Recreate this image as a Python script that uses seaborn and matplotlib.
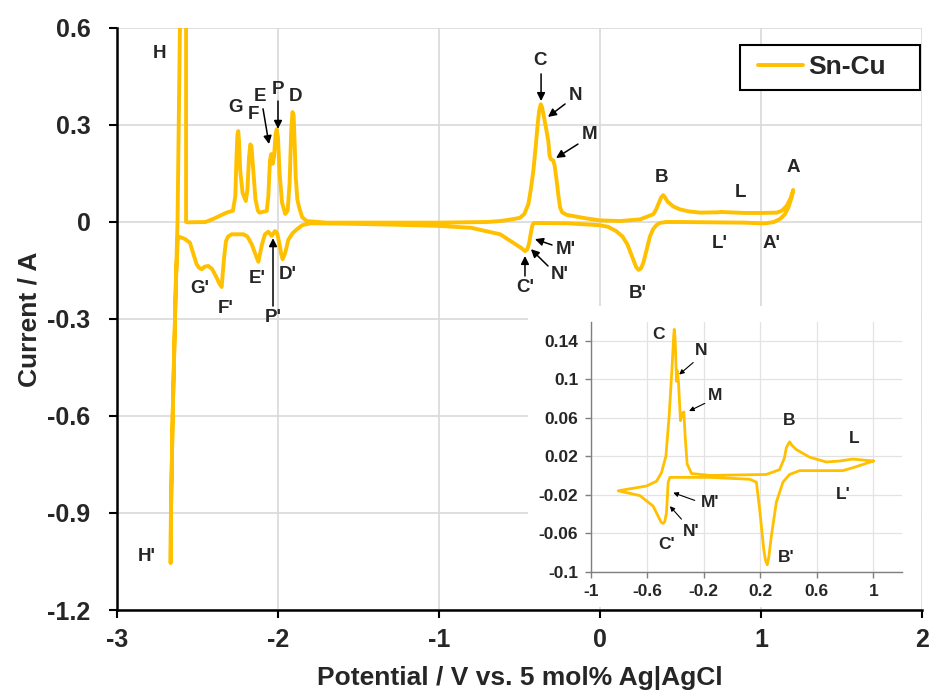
import numpy as np
import pandas as pd
import matplotlib
matplotlib.use("Agg")
import matplotlib.pyplot as plt
import seaborn as sns
from matplotlib.patches import Rectangle

# ---------------- data (main CV, Sn-Cu) ----------------
main_potential = [
    # cathodic scan from A
    1.20, 1.19, 1.17, 1.15, 1.12, 1.08, 1.03, 0.99, 0.90, 0.70, 0.50, 0.41, 0.37, 0.35, 0.33,
    0.31, 0.29, 0.27, 0.255, 0.24, 0.225, 0.21, 0.19, 0.17, 0.14, 0.10, 0.05, 0.00, -0.20,
    -0.41, -0.42, -0.43, -0.44, -0.452, -0.466, -0.49, -0.54, -0.62, -0.80,
    -1.00, -1.30, -1.60, -1.80, -1.85, -1.884, -1.91, -1.936, -1.955, -1.971, -1.98, -1.99,
    -2.005, -2.019, -2.039, -2.06, -2.081, -2.10, -2.122, -2.14, -2.163, -2.19, -2.215,
    -2.288, -2.31, -2.323, -2.335, -2.35, -2.365, -2.381, -2.41, -2.433, -2.455, -2.474,
    -2.49, -2.505, -2.525, -2.547, -2.58, -2.613, -2.622, -2.634, -2.654, -2.665, -2.667,
    # anodic scan from H'
    -2.665, -2.654, -2.634, -2.624, -2.609, -2.600, -2.585, -2.575, -2.571, -2.571, -2.56,
    -2.45, -2.40, -2.32, -2.28, -2.265, -2.258, -2.252, -2.247, -2.242, -2.235, -2.22, -2.20,
    -2.19, -2.18, -2.172, -2.165, -2.155, -2.14, -2.125, -2.116, -2.07, -2.06, -2.05, -2.042,
    -2.033, -2.025, -2.015, -2.008, -2.0, -1.99, -1.975, -1.955, -1.94, -1.928, -1.918, -1.91,
    -1.903, -1.897, -1.89, -1.88, -1.868, -1.85, -1.822,
    -1.70, -1.00, -0.70, -0.62, -0.55, -0.497, -0.47, -0.445, -0.43, -0.414, -0.40, -0.389,
    -0.378, -0.368, -0.36, -0.352, -0.335, -0.321, -0.313, -0.305, -0.29, -0.282, -0.269,
    -0.258, -0.248, -0.235, -0.207, -0.083, 0.00, 0.124, 0.248, 0.331, 0.35, 0.362, 0.38,
    0.393, 0.405, 0.42, 0.455, 0.497, 0.55, 0.621, 0.733, 0.75, 0.90, 1.00, 1.098, 1.13,
    1.16, 1.185, 1.20,
]
main_current = [
    0.098, 0.075, 0.045, 0.025, 0.010, 0.000, -0.004, -0.004, -0.002, -0.001, 0.000, 0.000,
    -0.003, -0.010, -0.022, -0.045, -0.085, -0.125, -0.143, -0.148, -0.140, -0.121, -0.095,
    -0.069, -0.045, -0.028, -0.015, -0.010, -0.004,
    -0.003, -0.010, -0.035, -0.065, -0.085, -0.090, -0.080, -0.064, -0.038, -0.018,
    -0.012, -0.008, -0.005, -0.004, -0.010, -0.023, -0.035, -0.055, -0.095, -0.115, -0.100,
    -0.070, -0.035, -0.028, -0.043, -0.030, -0.038, -0.070, -0.123, -0.100, -0.069, -0.045,
    -0.038, -0.038, -0.045, -0.059, -0.110, -0.201, -0.190, -0.172, -0.145, -0.136, -0.138,
    -0.146, -0.142, -0.131, -0.100, -0.064, -0.052, -0.046, -0.050, -0.180, -0.594, -0.900,
    -1.054,
    -0.900, -0.594, -0.180, 0.000, 0.600, 1.000, 1.300, 1.000, 0.600, 0.000, -0.001,
    0.000, 0.010, 0.029, 0.035, 0.080, 0.200, 0.270, 0.281, 0.250, 0.160, 0.090, 0.065,
    0.100, 0.200, 0.240, 0.235, 0.170, 0.070, 0.035, 0.029, 0.034, 0.080, 0.190, 0.210,
    0.180, 0.200, 0.270, 0.287, 0.260, 0.150, 0.060, 0.025, 0.035, 0.120, 0.280, 0.340,
    0.330, 0.250, 0.140, 0.070, 0.044, 0.015, 0.003,
    -0.002, -0.002, 0.000, 0.003, 0.008, 0.013, 0.025, 0.055, 0.100, 0.158, 0.230, 0.292,
    0.345, 0.364, 0.355, 0.335, 0.290, 0.250, 0.205, 0.194, 0.190, 0.175, 0.127,
    0.080, 0.045, 0.030, 0.022, 0.011, 0.005, 0.003, 0.008, 0.024, 0.040, 0.055, 0.076,
    0.083, 0.075, 0.063, 0.048, 0.039, 0.033, 0.029, 0.030, 0.031, 0.028, 0.028, 0.029, 0.035,
    0.050, 0.075, 0.098,
]

# ---------------- data (inset CV) ----------------
inset_potential = [
    1.00, 0.854, 0.784, 0.478, 0.407, 0.36, 0.313, 0.278, 0.26, 0.249, 0.236, 0.224, 0.195,
    0.172, 0.125, -0.158, -0.44, -0.452, -0.464, -0.476, -0.487, -0.50, -0.511, -0.558,
    -0.652, -0.805,
    -0.605, -0.534, -0.499, -0.468, -0.445, -0.424, -0.413, -0.409, -0.404, -0.400, -0.393,
    -0.388, -0.379, -0.365, -0.351, -0.341, -0.332, -0.318, -0.287, -0.158, 0.242, 0.336,
    0.37, 0.384, 0.407, 0.425, 0.454, 0.548, 0.666, 0.76, 0.854, 1.00,
]
inset_current = [
    0.015, 0.008, 0.005, 0.005, 0.001, -0.007, -0.028, -0.063, -0.085, -0.093, -0.088,
    -0.077, -0.035, -0.007, -0.004, -0.002, -0.002, -0.007, -0.039, -0.048, -0.050, -0.049,
    -0.046, -0.032, -0.021, -0.016,
    -0.011, -0.006, 0.003, 0.020, 0.062, 0.114, 0.145, 0.152, 0.145, 0.131, 0.098,
    0.109, 0.097, 0.057, 0.065, 0.066, 0.041, 0.012, 0.002, 0.000, 0.001, 0.006,
    0.018, 0.029, 0.035, 0.031, 0.027, 0.019, 0.014, 0.015, 0.017, 0.015,
]

main_xticks = [-3, -2, -1, 0, 1, 2]
main_yticks = [0.6, 0.3, 0, -0.3, -0.6, -0.9, -1.2]
main_ytick_labels = ["0.6", "0.3", "0", "-0.3", "-0.6", "-0.9", "-1.2"]
inset_xticks = [-1, -0.6, -0.2, 0.2, 0.6, 1]
inset_xtick_labels = ["-1", "-0.6", "-0.2", "0.2", "0.6", "1"]
inset_yticks = [0.14, 0.1, 0.06, 0.02, -0.02, -0.06, -0.1]
inset_ytick_labels = ["0.14", "0.1", "0.06", "0.02", "-0.02", "-0.06", "-0.1"]

# labels: (text, x, y)
main_labels = [
    ("H", -2.733, 0.52), ("H'", -2.814, -1.036), ("G", -2.261, 0.353), ("F", -2.155, 0.331),
    ("E", -2.112, 0.387), ("P", -2.0, 0.411), ("D", -1.894, 0.387), ("G'", -2.484, -0.207),
    ("F'", -2.323, -0.266), ("E'", -2.13, -0.176), ("D'", -1.938, -0.161), ("P'", -2.031, -0.294),
    ("C", -0.373, 0.498), ("N", -0.155, 0.39), ("M", -0.062, 0.272), ("B", 0.379, 0.139),
    ("L", 0.87, 0.09), ("A", 1.199, 0.17), ("L'", 0.745, -0.068), ("A'", 1.068, -0.068),
    ("B'", 0.236, -0.22), ("C'", -0.466, -0.204), ("M'", -0.211, -0.084), ("N'", -0.248, -0.161),
]
# arrows: (x_from, y_from, x_to, y_to)
main_arrows = [
    (-2.093, 0.35, -2.056, 0.241), (-2.0, 0.374, -2.0, 0.288), (-2.031, -0.26, -2.031, -0.05),
    (-0.366, 0.458, -0.366, 0.374), (-0.217, 0.365, -0.323, 0.325), (-0.137, 0.241, -0.273, 0.198),
    (-0.466, -0.167, -0.466, -0.105), (-0.298, -0.071, -0.404, -0.053), (-0.323, -0.136, -0.429, -0.084),
]
inset_labels = [
    ("C", -0.522, 0.147), ("N", -0.216, 0.1296), ("M", -0.122, 0.083), ("B", 0.407, 0.057),
    ("L", 0.866, 0.038), ("L'", 0.784, -0.020), ("M'", -0.158, -0.028), ("N'", -0.287, -0.058),
    ("C'", -0.464, -0.072), ("B'", 0.384, -0.0854),
]
inset_arrows = [
    (-0.275, 0.1175, -0.374, 0.105), (-0.193, 0.075, -0.304, 0.067),
    (-0.264, -0.026, -0.416, -0.018), (-0.358, -0.0455, -0.44, -0.032),
]

# ---------------- plotting ----------------
sns.set_theme(style="white")
plt.rcParams["font.family"] = ["Liberation Sans", "DejaVu Sans"]
plt.rcParams["font.weight"] = "bold"

GOLD = "#FFC000"
GRID = "#d9d9d9"

fig = plt.figure(figsize=(9.32, 6.91), dpi=100)
ax = fig.add_axes([117 / 932, 1 - 610 / 691, (922 - 117) / 932, (610 - 28) / 691])

df_main = pd.DataFrame({"Potential": main_potential, "Current": main_current,
                        "Sample": "Sn-Cu"})
sns.lineplot(data=df_main, x="Potential", y="Current", hue="Sample", palette=[GOLD],
             sort=False, estimator=None, linewidth=2.8, ax=ax, zorder=3)

ax.set_xlim(-3, 2)
ax.set_ylim(-1.2, 0.6)
ax.set_xticks(main_xticks)
ax.set_xticklabels([str(t) for t in main_xticks])
ax.set_yticks(main_yticks)
ax.set_yticklabels(main_ytick_labels)
ax.grid(True, color=GRID, linewidth=1.2, zorder=0)
ax.set_axisbelow(True)
for s in ["top", "right"]:
    ax.spines[s].set_visible(False)
for s in ["left", "bottom"]:
    ax.spines[s].set_color("black")
    ax.spines[s].set_linewidth(1.8)
ax.tick_params(axis="both", which="major", direction="out", length=6, width=1.5,
               color="black", labelsize=18, left=True, bottom=True)
ax.tick_params(axis="y", pad=13)
ax.tick_params(axis="x", pad=7)
for lab in ax.get_xticklabels() + ax.get_yticklabels():
    lab.set_fontweight("bold")
ax.set_xlabel("Potential / V vs. 5 mol% Ag|AgCl", fontsize=19, fontweight="bold")
ax.set_ylabel("Current / A", fontsize=19, fontweight="bold")
ax.xaxis.set_label_coords(0.5, (610 - 666) / 582)
ax.yaxis.set_label_coords((41 - 117) / 805, 0.5)

for t, x, y in main_labels:
    ax.text(x, y, t, fontsize=13.5, fontweight="bold", ha="center", va="center", zorder=5)
for x0, y0, x1, y1 in main_arrows:
    ax.annotate("", xy=(x1, y1), xytext=(x0, y0),
                arrowprops=dict(arrowstyle="-|>", color="black", lw=1.1,
                                mutation_scale=12, shrinkA=0, shrinkB=0), zorder=5)

# legend (frame drawn separately to match the reference box)
leg_box = Rectangle((740 / 932, 1 - 90 / 691), 180 / 932, 45 / 691,
                    transform=fig.transFigure, facecolor="white",
                    edgecolor="black", linewidth=1.5, zorder=6, clip_on=False)
ax.add_patch(leg_box)
leg = ax.legend(loc="center left", bbox_to_anchor=(758 / 932, 1 - 67.5 / 691),
                bbox_transform=fig.transFigure, frameon=False,
                fontsize=19, handlelength=1.7, handletextpad=0.2, borderpad=0,
                borderaxespad=0)
leg.set_zorder(7)
for txt in leg.get_texts():
    txt.set_fontweight("bold")
for line in leg.get_lines():
    line.set_linewidth(2.8)

# white chart area behind the inset
fig.patches.append(Rectangle((528 / 932, 1 - 607 / 691), (921 - 528) / 932, (607 - 306) / 691,
                             transform=fig.transFigure, facecolor="white", edgecolor="none",
                             zorder=10))

axin = fig.add_axes([590.7 / 932, 1 - 571.5 / 691, (901.7 - 590.7) / 932, (571.5 - 321.7) / 691])
axin.set_zorder(11)
axin.patch.set_facecolor("white")
df_in = pd.DataFrame({"Potential": inset_potential, "Current": inset_current})
sns.lineplot(data=df_in, x="Potential", y="Current", color=GOLD, sort=False,
             estimator=None, linewidth=2.0, ax=axin, zorder=3)
axin.set_xlim(-1, 1.2)
axin.set_ylim(-0.1, 0.16)
axin.set_xticks(inset_xticks)
axin.set_xticklabels(inset_xtick_labels)
axin.set_yticks(inset_yticks)
axin.set_yticklabels(inset_ytick_labels)
axin.grid(True, color="#e3e3e3", linewidth=0.9)
axin.set_axisbelow(True)
for s in ["top", "right"]:
    axin.spines[s].set_visible(False)
for s in ["left", "bottom"]:
    axin.spines[s].set_color("#7f7f7f")
    axin.spines[s].set_linewidth(1.0)
axin.tick_params(axis="both", direction="out", length=4, width=1.0, color="#7f7f7f",
                 labelsize=12.5, pad=5, left=True, bottom=True)
for lab in axin.get_xticklabels() + axin.get_yticklabels():
    lab.set_fontweight("bold")
axin.set_xlabel("")
axin.set_ylabel("")
for t, x, y in inset_labels:
    axin.text(x, y, t, fontsize=12.5, fontweight="bold", ha="center", va="center")
for x0, y0, x1, y1 in inset_arrows:
    axin.annotate("", xy=(x1, y1), xytext=(x0, y0),
                  arrowprops=dict(arrowstyle="-|>", color="black", lw=0.8,
                                  mutation_scale=7, shrinkA=0, shrinkB=0))

fig.savefig("out.png", dpi=100)
